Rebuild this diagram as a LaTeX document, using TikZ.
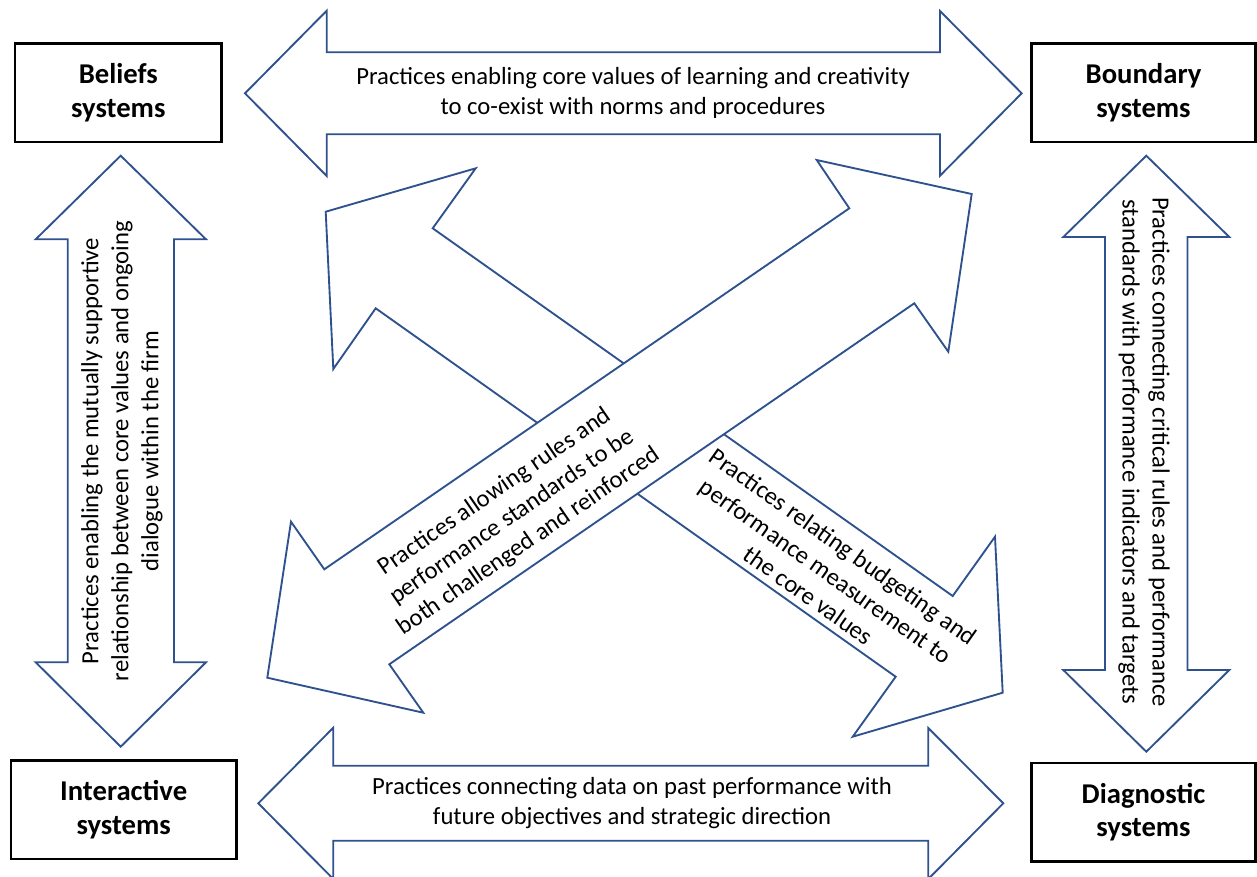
\documentclass[tikz,border=0pt]{standalone}
\usepackage{fontspec}
\setmainfont{Carlito}
\definecolor{arrowblue}{RGB}{47,82,143}

\begin{document}
\begin{tikzpicture}
[x=0.75pt,y=-0.75pt,%
  sysbox/.style={draw=black,line width=1.8pt,minimum height=74pt,align=center,%
    font=\fontsize{21.5}{25}\selectfont\bfseries},%
  blockarrow/.style={draw=arrowblue,line width=1.4pt,fill=white},%
  arrowtext/.style={align=center,inner sep=0pt,font=\fontsize{18.5}{22.5}\selectfont}]
\useasboundingbox (0,0) rectangle (1257,876);

% the four systems
\node[sysbox,minimum width=155pt] (beliefs) at (118.3,92.7) {Beliefs\\systems};
\node[sysbox,minimum width=168pt] (boundary) at (1143.5,92.7) {Boundary\\systems};
\node[sysbox,minimum width=169pt] (interactive) at (123.7,809.7) {Interactive\\systems};
\node[sysbox,minimum width=168pt] (diagnostic) at (1143.5,812.2) {Diagnostic\\systems};

% block arrows between the systems
\draw[blockarrow] (245,93.3) -- (326.7,10.7) -- (326.7,52.3) -- (940,52.3) -- (940,11)
  -- (1021.7,93.3) -- (940,175.7) -- (940,134.3) -- (326.7,134.3) -- (326.7,176) -- cycle;
\draw[blockarrow] (258.3,803.3) -- (333.3,727.7) -- (333.3,765.7) -- (928.3,765.7) -- (928.3,728)
  -- (1003.3,803.3) -- (928.3,879) -- (928.3,840.7) -- (333.3,840.7) -- (333.3,879) -- cycle;
\draw[blockarrow] (120.7,155.7) -- (206,239.3) -- (174,239.3) -- (174,662.3) -- (206,662.3)
  -- (120.7,746.7) -- (35.7,662.3) -- (67.7,662.3) -- (67.7,239.3) -- (35.7,239.3) -- cycle;
\draw[blockarrow] (1146.3,155.7) -- (1229.3,237) -- (1187.5,237) -- (1187.5,670) -- (1229.3,670)
  -- (1146.3,751.7) -- (1063.3,670) -- (1105,670) -- (1105,237) -- (1063.3,237) -- cycle;

% crossing arrows
\draw[blockarrow] (325.7,211.7) -- (475.7,168.3) -- (432.7,228.3) -- (952.7,596) -- (995,536.7)
  -- (1002.7,692.7) -- (852.7,736.7) -- (895.7,676.7) -- (375.7,308.3) -- (333.3,369) -- cycle;
\draw[blockarrow] (267.3,677.7) -- (291,521.7) -- (324.3,569.3) -- (849.3,208.3) -- (816.7,160)
  -- (971.7,194) -- (948.3,351.7) -- (914.3,303.3) -- (389.3,664.3) -- (423.3,712.7) -- cycle;

% labels
\node[arrowtext] (top) at (633,93)
  {Practices enabling core values of learning and creativity\\to co-exist with norms and procedures};
\node[arrowtext] (bottom) at (632,803)
  {Practices connecting data on past performance with\\future objectives and strategic direction};
\node[arrowtext,rotate=90] (left) at (122,451)
  {Practices enabling the mutually supportive\\relationship between core values and ongoing\\dialogue within the firm};
\node[arrowtext,rotate=-90] (right) at (1144,452)
  {Practices connecting critical rules and performance\\standards with performance indicators and targets};
\node[arrowtext,rotate=34.5] (rising) at (512,517)
  {Practices allowing rules and\\performance standards to be\\both challenged and reinforced};
\node[arrowtext,rotate=-35.3] (falling) at (826,571)
  {Practices relating budgeting and\\performance measurement to\\the core values};
\end{tikzpicture}
\end{document}
